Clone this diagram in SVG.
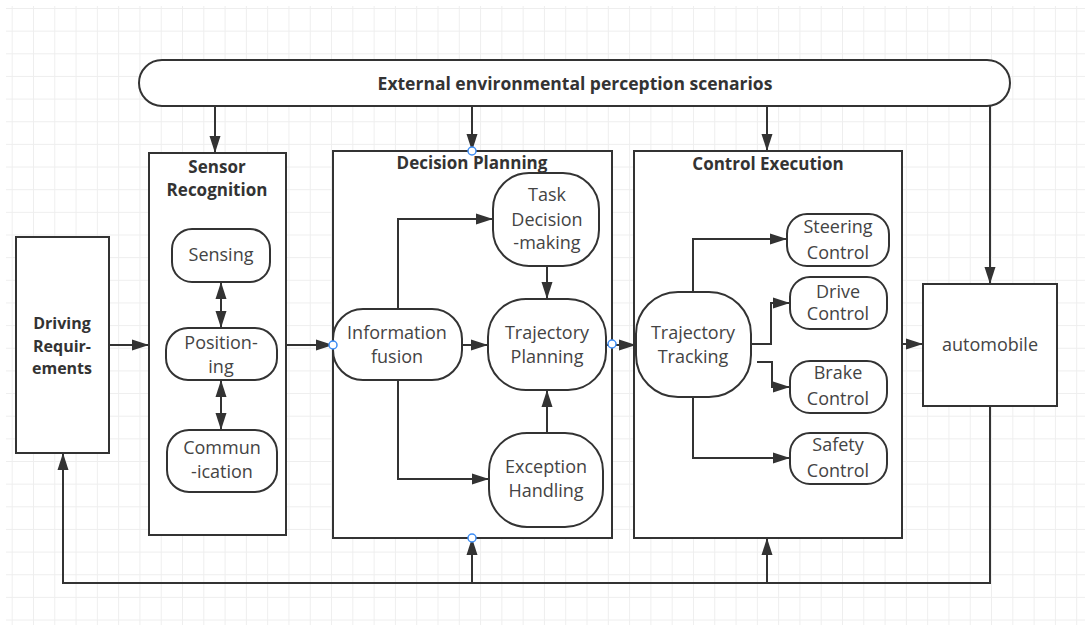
<svg xmlns="http://www.w3.org/2000/svg" width="1085" height="625" viewBox="0 0 1085 625">
  <defs>
    <pattern id="grid" x="11.7" y="8" width="21.29" height="22.65" patternUnits="userSpaceOnUse">
      <path d="M0,0 V22.65 M0,0 H21.29" fill="none" stroke="#eeeeee" stroke-width="2"/>
    </pattern>
    <marker id="arr" markerUnits="userSpaceOnUse" markerWidth="17" markerHeight="12" refX="17" refY="6" orient="auto-start-reverse">
      <path d="M0,0.5 L17,6 L0,11.5 z" fill="#333"/>
    </marker>
    <style>
      .box { fill: #fff; stroke: #333; stroke-width: 2; }
      .node { fill: #fff; stroke: #333; stroke-width: 2; }
      .lnA { fill: none; stroke: #333; stroke-width: 2; marker-end: url(#arr); }
      .lnB { fill: none; stroke: #333; stroke-width: 2; marker-start: url(#arr); marker-end: url(#arr); }
      .title { font-family: "Open Sans", "Noto Sans", sans-serif; font-weight: bold; font-size: 17px; fill: #333; text-anchor: middle; }
      .lbl { font-family: "Open Sans", "Noto Sans", sans-serif; font-size: 18px; fill: #444; text-anchor: middle; }
      .pt { fill: #fff; stroke: #3d8df5; stroke-width: 1.5; }
    </style>
  </defs>
  <rect x="0" y="0" width="1085" height="625" fill="#fff"/>
  <rect x="6" y="6" width="1079" height="619" fill="url(#grid)"/>

  <g id="env">
    <rect class="node" x="139" y="60" width="871" height="46" rx="23"/>
    <text class="title" x="575" y="90" style="font-size:17.5px">External environmental perception scenarios</text>
  </g>

  <g id="driving">
    <rect class="box" x="16" y="237" width="93" height="216"/>
    <text class="title" x="62" y="329" style="font-size:16px">Driving</text>
    <text class="title" x="62" y="352" style="font-size:16px">Requir-</text>
    <text class="title" x="62" y="374" style="font-size:16px">ements</text>
  </g>

  <g id="sensor">
    <rect class="box" x="149" y="153" width="137" height="382"/>
    <text class="title" x="217" y="173">Sensor</text>
    <text class="title" x="217" y="196">Recognition</text>
  </g>

  <g id="decision">
    <rect class="box" x="333" y="151" width="279" height="387"/>
    <text class="title" x="472" y="169">Decision Planning</text>
  </g>

  <g id="control">
    <rect class="box" x="634" y="151" width="268" height="387"/>
    <text class="title" x="768" y="170">Control Execution</text>
  </g>

  <g id="automobile">
    <rect class="box" x="923" y="284" width="134" height="122"/>
    <text class="lbl" x="990" y="351">automobile</text>
  </g>

  <g id="connectors">
    <path class="lnA" d="M215,106 V153"/>
    <path class="lnA" d="M472,106 V151"/>
    <path class="lnA" d="M767,106 V151"/>
    <path class="lnA" d="M990,106 V284"/>
    <path class="lnA" d="M109,345 H149"/>
    <path class="lnA" d="M286,345 H333"/>
    <path class="lnB" d="M221,282 V328"/>
    <path class="lnB" d="M221,380 V430"/>
    <path class="lnA" d="M398,309 V219 H493"/>
    <path class="lnA" d="M462,345 H488"/>
    <path class="lnA" d="M398,380 V479 H489"/>
    <path class="lnA" d="M547,266 V299"/>
    <path class="lnA" d="M547,433 V390"/>
    <path class="lnA" d="M606,345 H636"/>
    <path class="lnA" d="M693,292 V239 H787"/>
    <path class="lnA" d="M751,344 H771 V303 H790"/>
    <path class="lnA" d="M757,362 H772 V387 H790"/>
    <path class="lnA" d="M693,397 V458 H790"/>
    <path class="lnA" d="M902,344 H923"/>
    <path class="lnA" d="M990,406 V583 H63 V453"/>
    <path class="lnA" d="M472,583 V538"/>
    <path class="lnA" d="M767,583 V538"/>
  </g>

  <g id="sensing">
    <rect class="node" x="172" y="229" width="98" height="53" rx="20"/>
    <text class="lbl" x="221" y="261">Sensing</text>
  </g>
  <g id="positioning">
    <rect class="node" x="166" y="328" width="111" height="52" rx="22"/>
    <text class="lbl" x="221" y="349">Position-</text>
    <text class="lbl" x="221" y="373">ing</text>
  </g>
  <g id="communication">
    <rect class="node" x="167" y="430" width="110" height="62" rx="22"/>
    <text class="lbl" x="222" y="454">Commun</text>
    <text class="lbl" x="222" y="478">-ication</text>
  </g>
  <g id="fusion">
    <rect class="node" x="333" y="309" width="129" height="71" rx="30"/>
    <text class="lbl" x="397" y="339">Information</text>
    <text class="lbl" x="397" y="363">fusion</text>
  </g>
  <g id="task">
    <rect class="node" x="493" y="173" width="106" height="93" rx="36"/>
    <text class="lbl" x="547" y="201">Task</text>
    <text class="lbl" x="547" y="226">Decision</text>
    <text class="lbl" x="547" y="249">-making</text>
  </g>
  <g id="trajplan">
    <rect class="node" x="488" y="299" width="118" height="91" rx="38"/>
    <text class="lbl" x="547" y="339">Trajectory</text>
    <text class="lbl" x="547" y="363">Planning</text>
  </g>
  <g id="exception">
    <rect class="node" x="489" y="433" width="114" height="94" rx="38"/>
    <text class="lbl" x="546" y="473">Exception</text>
    <text class="lbl" x="546" y="497">Handling</text>
  </g>
  <g id="tracking">
    <rect class="node" x="636" y="292" width="115" height="105" rx="42"/>
    <text class="lbl" x="693" y="339">Trajectory</text>
    <text class="lbl" x="693" y="363">Tracking</text>
  </g>
  <g id="steering">
    <rect class="node" x="787" y="214" width="102" height="52" rx="20"/>
    <text class="lbl" x="838" y="233">Steering</text>
    <text class="lbl" x="838" y="259">Control</text>
  </g>
  <g id="drive">
    <rect class="node" x="790" y="277" width="97" height="52" rx="20"/>
    <text class="lbl" x="838" y="298">Drive</text>
    <text class="lbl" x="838" y="320">Control</text>
  </g>
  <g id="brake">
    <rect class="node" x="790" y="361" width="97" height="52" rx="20"/>
    <text class="lbl" x="838" y="379">Brake</text>
    <text class="lbl" x="838" y="405">Control</text>
  </g>
  <g id="safety">
    <rect class="node" x="790" y="433" width="97" height="51" rx="20"/>
    <text class="lbl" x="838" y="451">Safety</text>
    <text class="lbl" x="838" y="477">Control</text>
  </g>

  <g id="points">
    <circle class="pt" cx="472" cy="151" r="4"/>
    <circle class="pt" cx="333" cy="345" r="4"/>
    <circle class="pt" cx="612" cy="344" r="4"/>
    <circle class="pt" cx="472" cy="538" r="4"/>
  </g>
</svg>
